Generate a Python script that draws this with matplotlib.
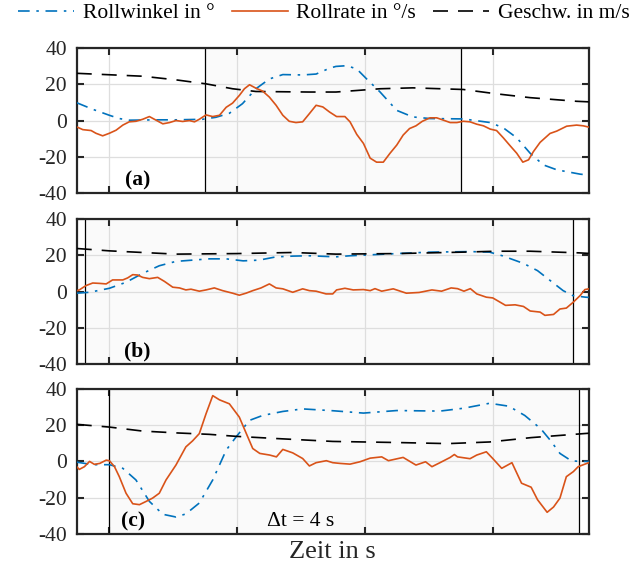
import matplotlib
matplotlib.use("Agg")
import matplotlib.pyplot as plt
import numpy as np

plt.rcParams['font.family'] = ['Liberation Serif', 'DejaVu Serif']
plt.rcParams['font.size'] = 15
plt.rcParams['axes.unicode_minus'] = False

BLUE = '#0072BD'
ORANGE = '#D95319'

# ---- Panel (a) ----
t_rate_a = [0, 0.19, 0.45, 0.6, 0.81, 1.02, 1.23, 1.44, 1.64, 1.85, 2.06, 2.27, 2.48, 2.69, 2.9,
            3.1, 3.31, 3.52, 3.68, 3.83, 4.04, 4.25, 4.46, 4.67, 4.87, 5.08, 5.24, 5.4, 5.6, 5.81,
            6.02, 6.23, 6.44, 6.64, 6.85, 7.06, 7.27, 7.48, 7.69, 7.9, 8.12, 8.38, 8.54, 8.75,
            8.96, 9.17, 9.37, 9.58, 9.79, 10.0, 10.2, 10.4, 10.6, 10.8, 11.04, 11.25, 11.46,
            11.67, 11.88, 12.08, 12.29, 12.5, 12.71, 12.92, 13.12, 13.33, 13.54, 13.75, 13.94,
            14.12, 14.27, 14.48, 14.79, 15.0, 15.31, 15.62, 15.83, 16.0]
rate_a = [-3.5, -5, -5.5, -7, -8.4, -7, -5.3, -2.5, -0.7, -0.4, 0.7, 2.2, 0.2, -1.8, -1.1,
          0, -0.5, 0, -0.7, 0.7, 3.1, 2.2, 2.9, 7.3, 9.6, 13.8, 17.5, 19.7, 17.8, 16.2,
          12.9, 8.4, 2.9, -0.4, -1.1, -0.7, 3.8, 8.4, 7.5, 4.7, 2.2, 2.2, -0.7, -7.6,
          -12.6, -20.7, -22.9, -22.9, -18, -13.5, -8, -4.4, -2.9, -0.4, 1.5, 1.5, 0.2,
          -1.1, -1.1, -0.4, -0.7, -2, -2.9, -4.7, -5.5, -9.5, -13.8, -18, -22.9,
          -21.6, -17.1, -12, -7.1, -5.8, -3.1, -2.5, -2.9, -3.6]
t_roll_a = [0, 0.5, 1.02, 1.33, 1.64, 2.58, 3.1, 3.93, 4.35, 4.77, 5.18, 5.6, 6.02, 6.44, 7.06,
            7.48, 7.9, 8.1, 8.44, 8.75, 9.06, 9.48, 10.0, 10.5, 11.04, 12.08, 12.92, 13.33,
            13.75, 14.17, 14.58, 15.0, 15.73, 16.0]
roll_a = [9.8, 6.2, 2.9, 1.1, 0.2, 0.4, 0.4, 0.7, 1.8, 4, 9.3, 17.5, 22.9, 25.3, 25.1,
          25.6, 28.8, 29.8, 30.2, 28.4, 22.9, 15.7, 5.6, 2, 1.1, 0.9, -1.1, -4,
          -9.5, -18, -24.4, -27.1, -29.5, -30]
t_speed_a = [0, 2.06, 3.1, 4.04, 4.87, 5.6, 7.27, 8.1, 9.48, 10.5, 12.08, 13.12, 14.17, 15.62, 16.0]
speed_a = [26, 24.4, 22.4, 20.2, 17.5, 16, 15.7, 15.7, 17.5, 18, 17.1, 14.7, 12.6, 10.6, 10.3]

# ---- Panel (b) ----
t_rate_b = [0, 0.08, 0.29, 0.5, 0.71, 0.92, 1.12, 1.44, 1.59, 1.75, 1.9, 2.06, 2.27, 2.53, 2.74,
            3.0, 3.21, 3.41, 3.57, 3.83, 4.04, 4.3, 4.56, 4.87, 5.08, 5.29, 5.5, 5.76, 6.02,
            6.23, 6.44, 6.75, 7.06, 7.27, 7.48, 7.79, 8.0, 8.12, 8.38, 8.64, 8.96, 9.17, 9.32,
            9.53, 9.89, 10.3, 10.7, 11.1, 11.4, 11.7, 11.9, 12.1, 12.3, 12.5, 12.8, 13.0,
            13.4, 13.7, 13.96, 14.17, 14.48, 14.63, 14.9, 15.1, 15.3, 15.52, 15.73, 15.88, 16.0]
rate_b = [0.5, 0.9, 3.3, 4.7, 4.5, 4.2, 6.4, 6.4, 7.5, 9.3, 9.1, 7.8, 7.1, 7.8, 5.6,
          2.4, 2, 0.9, 1.3, 0.2, 0.9, 2, 0.5, -0.9, -2, -0.9, 0.5, 2, 4.2,
          2, 1.5, -0.4, 1.5, 0.5, 0.2, -1.3, -1.3, 0.9, 1.8, 0.9, 1.1, 0.5, 1.6,
          0.2, 1.5, -0.9, -0.5, 0.9, 0.2, 2, 1.6, 0.2, 1.6, -1.3, -3.1, -3.5,
          -7.6, -7.3, -8.2, -10.7, -11.3, -13.1, -12.6, -9.6, -9.1, -5.8, -2.2, 1.1, 1.5]
t_roll_b = [0, 0.4, 1.02, 1.54, 2.06, 2.58, 3.1, 3.62, 4.14, 4.67, 5.2, 5.7, 6.23, 6.75, 7.27,
            8.1, 8.54, 10.0, 11.04, 12.29, 12.9, 13.3, 13.96, 14.4, 14.8, 15.2, 15.5, 15.9, 16.0]
roll_b = [-0.9, -0.4, 1.8, 5.1, 10, 14.2, 16.6, 17.3, 18, 18, 16.9, 17.3, 19.1, 19.5, 19.7,
          19.1, 19.7, 20.9, 21.7, 22, 21.7, 19.7, 15.5, 11.5, 6, 0.5, -2.2, -3.1, -3.2]
t_speed_b = [0, 1.02, 2.06, 3.1, 5.0, 6.75, 8.1, 10.0, 12.08, 13.12, 14.17, 15.7, 16.0]
speed_b = [23.7, 22.4, 21.5, 20.6, 20.9, 21.5, 20.6, 20.9, 21.7, 22.2, 22.2, 21.3, 21]

# ---- Panel (c) ----
t_rate_c = [0, 0.08, 0.24, 0.4, 0.55, 0.72, 0.92, 1.02, 1.18, 1.33, 1.54, 1.75, 1.96, 2.17, 2.37,
            2.58, 2.79, 3.1, 3.41, 3.62, 3.83, 4.04, 4.25, 4.46, 4.77, 5.08, 5.3, 5.5, 5.72,
            6.03, 6.24, 6.44, 6.75, 7.06, 7.27, 7.48, 7.8, 8.0, 8.23, 8.54, 8.85, 9.17, 9.53,
            9.74, 10.2, 10.6, 10.9, 11.1, 11.35, 11.67, 11.8, 11.9, 12.29, 12.5, 12.8, 13.0,
            13.28, 13.6, 13.9, 14.2, 14.4, 14.7, 14.9, 15.1, 15.3, 15.52, 15.67, 15.88, 16.0]
rate_c = [-2.9, -4.4, -2.9, 0, -1.6, -1.1, 0.7, 0.4, -2.9, -8.4, -17.5, -23.3, -23.8, -22, -20.2,
          -17.5, -10.2, -2, 8, 11.3, 15.3, 26.2, 36.2, 33.9, 31.7, 24.4, 15.3, 7.1, 4.4,
          3.5, 2.5, 6.6, 4.7, 1.6, -2.5, -0.7, 0.4, -0.7, -1.1, -1.5, -0.2, 1.8, 2.5,
          0.4, 2.2, -2, -0.2, -2.9, -0.7, 2.2, 3.8, 2.5, 1.5, 3.5, 5.3, 1.6,
          -3.8, -0.7, -12, -14.2, -21.1, -28, -25.1, -20.2, -8.4, -5.6, -2.9, -1.5, -0.7]
t_roll_c = [0, 0.5, 1.02, 1.44, 1.85, 2.27, 2.69, 3.1, 3.41, 3.83, 4.25, 4.67, 4.98, 5.4, 5.81,
            6.44, 7.06, 8.0, 8.96, 10.0, 11.35, 12.1, 12.9, 13.5, 14.0, 14.5, 14.8, 15.1,
            15.45, 15.7, 16.0]
roll_c = [-0.4, -1.8, -1.8, -3.8, -10.2, -22, -29.1, -30.6, -28.9, -22.9, -10.2, 6.2, 13.5,
          22.6, 25.3, 27.5, 28.9, 27.9, 26.6, 28, 27.7, 29.3, 32, 30.4, 25.3, 18, 11.6, 4.4,
          0.4, 0, 0]
t_speed_c = [0, 1.02, 2.06, 3.1, 4.14, 4.98, 6.23, 8.0, 10.0, 11.6, 12.9, 14.2, 15.84, 16.0]
speed_c = [20.4, 18.9, 16.7, 15.7, 14.9, 13.8, 12.6, 11.0, 10.4, 9.8, 10.7, 13.1, 15.3, 15.5]

# region boundaries (black vertical lines) and panel letters
regions = [(4.0, 12.0), (0.25, 15.5), (1.0, 15.7)]
letters = ['(a)', '(b)', '(c)']
letter_x = [1.9, 1.9, 1.76]

panels = [
    (t_roll_a, roll_a, t_rate_a, rate_a, t_speed_a, speed_a),
    (t_roll_b, roll_b, t_rate_b, rate_b, t_speed_b, speed_b),
    (t_roll_c, roll_c, t_rate_c, rate_c, t_speed_c, speed_c),
]

fig = plt.figure(figsize=(6.29, 5.70), dpi=100)
bottoms = [0.661, 0.361, 0.063]
axes = []
for i, b in enumerate(bottoms):
    ax = fig.add_axes([0.122, b, 0.814, 0.255])
    axes.append(ax)
    t_r, roll, t_q, rate, t_v, speed = panels[i]
    x0, x1 = regions[i]
    ax.axvspan(x0, x1, color='#fafafa', zorder=0, lw=0)
    ax.axvline(x0, color='black', lw=0.9, zorder=1)
    ax.axvline(x1, color='black', lw=0.9, zorder=1)
    ax.plot(t_r, roll, color=BLUE, lw=1.2, linestyle=(0, (7, 4, 1.5, 4)),
            label='Rollwinkel in °', zorder=3)
    ax.plot(t_q, rate, color=ORANGE, lw=1.2, label='Rollrate in °/s', zorder=4)
    ax.plot(t_v, speed, color='black', lw=1.2, linestyle=(0, (9, 6)),
            label='Geschw. in m/s', zorder=3)
    ax.set_xlim(0, 16)
    ax.set_ylim(-40, 40)
    ax.set_yticks([-40, -20, 0, 20, 40])
    ax.set_xticks([1, 5, 9, 13])
    ax.set_xticklabels([])
    ax.grid(True, color='#dedede', lw=0.9, zorder=0)
    ax.set_axisbelow(True)
    ax.tick_params(direction='in', top=True, right=True, length=5, width=1.5,
                   colors='#262626', labelcolor='#262626', labelsize=15.5)
    ax.tick_params(axis='y', pad=7)
    ax.tick_params(axis='x', pad=2)
    for s in ax.spines.values():
        s.set_linewidth(1.6)
        s.set_color('#262626')
    ax.text(letter_x[i], -33, letters[i], ha='center', va='center',
            fontsize=15.5, fontweight='bold')
    if i == 2:
        ax.text(7.0, -33, 'Δt = 4 s', ha='center', va='center', fontsize=15.5)
        ax.set_xlabel('Zeit in s', fontsize=19, labelpad=3, color='#262626')

handles, labels = axes[0].get_legend_handles_labels()
fig.legend(handles, labels, loc='center', bbox_to_anchor=(0.515, 0.977), ncol=3,
           frameon=False, fontsize=15.5, handlelength=2.6, columnspacing=0.8,
           handletextpad=0.4, borderaxespad=0, borderpad=0)

fig.savefig('out.png', dpi=100, facecolor='white')
